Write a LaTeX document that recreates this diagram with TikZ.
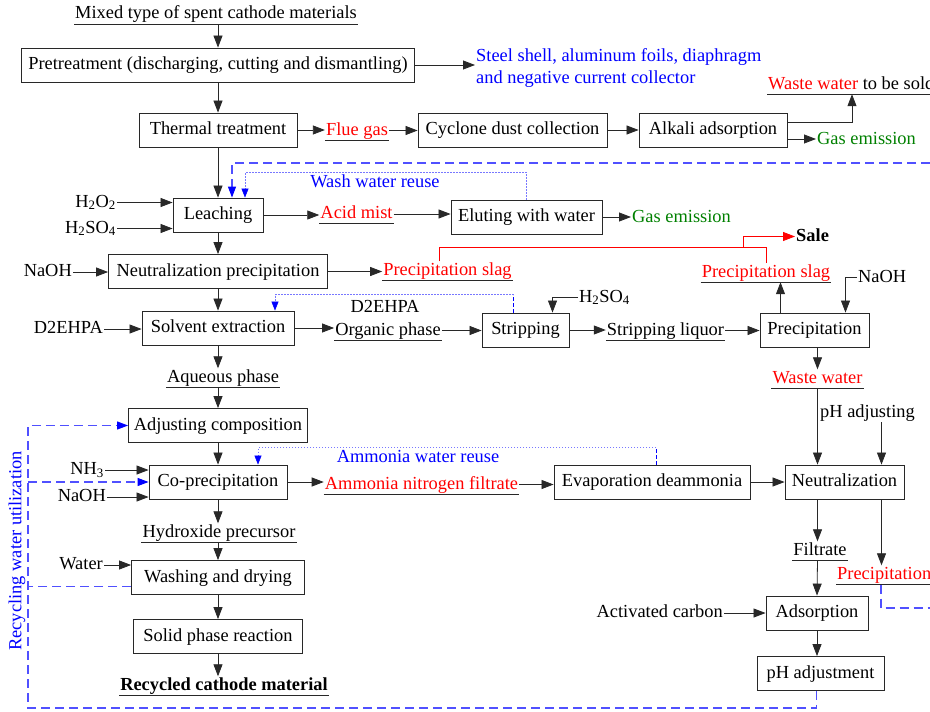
\documentclass[tikz,border=0pt]{standalone}
\usepackage{fontspec}
\setmainfont{Liberation Serif}
\usetikzlibrary{arrows.meta}
\definecolor{txtblue}{RGB}{0,0,255}
\definecolor{dashblue}{RGB}{80,80,255}
\definecolor{dotblue}{RGB}{120,120,255}
\definecolor{gasgreen}{RGB}{0,128,0}
\definecolor{linegray}{RGB}{40,40,40}
\begin{document}
\begin{tikzpicture}[x=1pt, y=-1pt, font=\fontsize{18.4}{22}\selectfont,
		>={Triangle[length=12pt,width=9pt]},
		txt/.style={inner sep=1pt, text height=13pt, text depth=4pt},
		bluedash/.style={draw=dashblue, line width=1.1pt, dash pattern=on 9pt off 5pt, -{Triangle[length=11pt,width=8pt,color=txtblue]}},
		darkdash/.style={draw=txtblue, line width=0.8pt, dash pattern=on 4pt off 2pt},
		bluedot/.style={draw=dotblue, line width=0.6pt, dash pattern=on 1.5pt off 1.5pt, -{Triangle[length=9pt,width=7pt,color=txtblue]}}]
		\useasboundingbox (0,0) rectangle (930,712);
		\clip (0,0) rectangle (930,712);
		% process boxes
		\begin{scope}[every node/.style={draw=linegray, line width=0.85pt, minimum height=34pt, inner sep=0pt, text height=13pt, text depth=4pt}]
			\node (pretreat)[minimum width=393pt] at (218,65) {Pretreatment (discharging, cutting and dismantling)};
			\node (thermal)[minimum width=158pt] at (218,130) {Thermal treatment};
			\node (cyclone)[minimum width=189pt] at (512.5,130) {Cyclone dust collection};
			\node (alkali)[minimum width=148pt] at (713,130) {Alkali adsorption};
			\node (leach)[minimum width=90pt] at (218,215) {Leaching};
			\node (elute)[minimum width=151pt] at (526.5,217) {Eluting with water};
			\node (neutral)[minimum width=219pt] at (218,271.5) {Neutralization precipitation};
			\node (solvent)[minimum width=152pt] at (218,328) {Solvent extraction};
			\node (strip)[minimum width=87pt] at (525.5,330) {Stripping};
			\node (precip)[minimum width=109pt] at (814.5,330) {Precipitation};
			\node (adjust)[minimum width=179pt] at (218,425.5) {Adjusting composition};
			\node (coprec)[minimum width=138pt] at (218,482) {Co-precipitation};
			\node (evap)[minimum width=196pt] at (652,482) {Evaporation deammonia};
			\node (neutz)[minimum width=119pt] at (844.5,482) {Neutralization};
			\node (wash)[minimum width=173pt] at (218,577.5) {Washing and drying};
			\node (solid)[minimum width=169pt] at (218,636.5) {Solid phase reaction};
			\node (adsorb)[minimum width=102pt] at (817,613) {Adsorption};
			\node (phadj)[minimum width=127pt] at (820.5,673.5) {pH adjustment};
		\end{scope}
		% materials and products
		\begin{scope}[every node/.style={txt}]
			\node (mixed) at (216,14.5) {Mixed type of spent cathode materials};
			\node (wastesold)[anchor=west] at (767,84.5) {\textcolor{red}{Waste water} to be sold};
			\node (gas1)[anchor=west, text=gasgreen] at (816,139.5) {Gas emission};
			\node (flue)[text=red] at (357,130.5) {Flue gas};
			\node (h2o2)[anchor=east] at (117,202.5) {H\textsubscript{2}O\textsubscript{2}};
			\node (h2so4a)[anchor=east] at (117,228.5) {H\textsubscript{2}SO\textsubscript{4}};
			\node (washreuse)[text=txtblue] at (375,183) {Wash water reuse};
			\node (acid)[text=red] at (356.5,214) {Acid mist};
			\node (gas2)[anchor=west, text=gasgreen] at (631,217.5) {Gas emission};
			\node (naoh1)[anchor=east] at (73,272) {NaOH};
			\node (slag1)[text=red] at (447.5,271) {Precipitation slag};
			\node (sale)[anchor=west, font=\fontsize{18.4}{22}\selectfont\bfseries] at (795,236.5) {Sale};
			\node (slag2)[text=red] at (766,272.5) {Precipitation slag};
			\node (naoh2)[anchor=west] at (857,277.5) {NaOH};
			\node (d2ehpa1)[anchor=east] at (104,329) {D2EHPA};
			\node (d2ehpa2) at (385,308) {D2EHPA};
			\node (organic) at (388,330.5) {Organic phase};
			\node (h2so4b)[anchor=west] at (578,297.5) {H\textsubscript{2}SO\textsubscript{4}};
			\node (liquor) at (665.5,330.5) {Stripping liquor};
			\node (waste2)[text=red] at (817.5,379) {Waste water};
			\node (phadjusting) at (867.5,412.5) {pH adjusting};
			\node (aqueous) at (223,378) {Aqueous phase};
			\node (ammreuse)[text=txtblue] at (418,458) {Ammonia water reuse};
			\node (nh3)[anchor=east] at (105,470) {NH\textsubscript{3}};
			\node (naoh3)[anchor=east] at (107,497) {NaOH};
			\node (ammfilt)[text=red] at (421.5,484.5) {Ammonia nitrogen filtrate};
			\node (hydrox) at (219,533) {Hydroxide precursor};
			\node (water)[anchor=east] at (104,565) {Water};
			\node (filtrate) at (820,551) {Filtrate};
			\node (precip3)[anchor=west, text=red] at (836,575) {Precipitation};
			\node (actcarbon)[anchor=east] at (724,613) {Activated carbon};
			\node (recycled)[font=\fontsize{18.4}{22}\selectfont\bfseries] at (224,686) {Recycled cathode material};
		\end{scope}
		\node (steel)[anchor=north west, align=left, inner sep=1pt, text=txtblue] at (475,47) {Steel shell, aluminum foils, diaphragm\\and negative current collector};
		\node (recyc)[rotate=90, text=txtblue] at (17,551) {Recycling water utilization};
		\foreach \n in {mixed,wastesold,flue,acid,slag1,slag2,organic,liquor,waste2,aqueous,ammfilt,hydrox,filtrate,precip3,recycled}
			\draw [draw=linegray, line width=0.8pt] (\n.south west) -- (\n.south east);
		% main flow
		\begin{scope}[every edge/.style={draw=linegray, line width=0.8pt}]
			\path [->] (pretreat.north |- mixed.south) edge (pretreat.north);
			\path [->] (pretreat.east) edge (pretreat.east -| steel.west);
			\path [->] (pretreat.south) edge (thermal.north);
			\path [->] (thermal.east) edge (thermal.east -| flue.west);
			\path [->] (flue.east) edge (flue.east -| cyclone.west);
			\path [->] (cyclone.east) edge (alkali.west);
			\path [->] (thermal.south) edge (leach.north);
			\path [->] (h2o2.east) edge (h2o2.east -| leach.west);
			\path [->] (h2so4a.east) edge (h2so4a.east -| leach.west);
			\path [->] (leach.east) edge (leach.east -| acid.west);
			\path [->] (acid.east) edge (acid.east -| elute.west);
			\path [->] (elute.east) edge (elute.east -| gas2.west);
			\path [->] (leach.south) edge (neutral.north);
			\path [->] (naoh1.east) edge (naoh1.east -| neutral.west);
			\path [->] (neutral.east) edge (neutral.east -| slag1.west);
			\path [->] (neutral.south) edge (solvent.north);
			\path [->] (d2ehpa1.east) edge (d2ehpa1.east -| solvent.west);
			\path [->] (solvent.east) edge (solvent.east -| organic.west);
			\path [->] (organic.east) edge (organic.east -| strip.west);
			\path [->] (strip.east) edge (strip.east -| liquor.west);
			\path [->] (liquor.east) edge (liquor.east -| precip.west);
			\path [->] ([xshift=-34]precip.north) edge ([xshift=-34]precip.north |- slag2.south);
			\path [->] (precip.south -| waste2.north) edge (waste2.north);
			\path [->] (waste2.south) edge (waste2.south |- neutz.north);
			\path [->] ([xshift=14]phadjusting.south) edge ([xshift=14]phadjusting.south |- neutz.north);
			\path [->] (solvent.south) edge (solvent.south |- aqueous.north);
			\path [->] (solvent.south |- aqueous.south) edge (adjust.north);
			\path [->] (adjust.south) edge (coprec.north);
			\path [->] (nh3.east) edge (nh3.east -| coprec.west);
			\path [->] (naoh3.east) edge (naoh3.east -| coprec.west);
			\path [->] (coprec.east) edge (coprec.east -| ammfilt.west);
			\path [->] (ammfilt.east) edge (ammfilt.east -| evap.west);
			\path [->] (evap.east) edge (neutz.west);
			\path [->] ([xshift=-27]neutz.south) edge ([xshift=-27]neutz.south |- filtrate.north);
			\path [->] ([xshift=-27]neutz.south |- filtrate.south) edge (adsorb.north);
			\path [->] ([xshift=37]neutz.south) edge ([xshift=37]neutz.south |- precip3.north);
			\path [->] (actcarbon.east) edge (actcarbon.east -| adsorb.west);
			\path [->] (adsorb.south) edge (adsorb.south |- phadj.north);
			\path [->] (coprec.south) edge (coprec.south |- hydrox.north);
			\path [->] (coprec.south |- hydrox.south) edge (wash.north);
			\path [->] (water.east) edge (water.east -| wash.west);
			\path [->] (wash.south) edge (solid.north);
			\path [->] (solid.south) edge (solid.south |- recycled.north);
		\end{scope}
		\draw [->, draw=linegray, line width=0.8pt] ([yshift=8]alkali.east) -| ([xshift=85]wastesold.south west);
		\draw [->, draw=linegray, line width=0.8pt] ([yshift=-9]alkali.east) -- ([yshift=-9]alkali.east -| gas1.west);
		\draw [->, draw=linegray, line width=0.8pt] (h2so4b.west) -| ([xshift=27]strip.north);
		\draw [->, draw=linegray, line width=0.8pt] (naoh2.west) -| ([xshift=31]precip.north);
		% slag to sale
		\coordinate (salefork) at (743,247);
		\draw [red, line width=0.8pt] ([xshift=-8]slag1.north) -- ++(0,-14) -| (slag2.north);
		\draw [red, ->, line width=0.8pt] (salefork) |- (sale.west);
		% water reuse
		\coordinate (recycin) at (930,163);
		\coordinate (reccorner) at (28,708);
		\coordinate (precout) at (930,608);
		\draw [bluedash] (recycin) -| ([xshift=14]leach.north);
		\draw [bluedot] (elute.north) -- ++(0,-27) -| ([xshift=27]leach.north);
		\draw [darkdash] ([xshift=-12]strip.north) -- ++(0,-18) coordinate (stripturn);
		\draw [bluedot] (stripturn) -| ([xshift=57]solvent.north);
		\draw [darkdash] ([xshift=4]evap.north) -- ++(0,-17) coordinate (evapturn);
		\draw [bluedot] (evapturn) -| ([xshift=40]coprec.north);
		\draw [bluedash] ([xshift=-4]phadj.south) |- (reccorner) |- (adjust.west);
		\draw [bluedash] (reccorner |- coprec.west) -- (coprec.west);
		\draw [bluedash, -] ([yshift=-9]wash.west) -- ([yshift=-9]wash.west -| reccorner);
		\draw [bluedash, -] ([xshift=45]precip3.south west) |- (precout);
	\end{tikzpicture}
\end{document}
